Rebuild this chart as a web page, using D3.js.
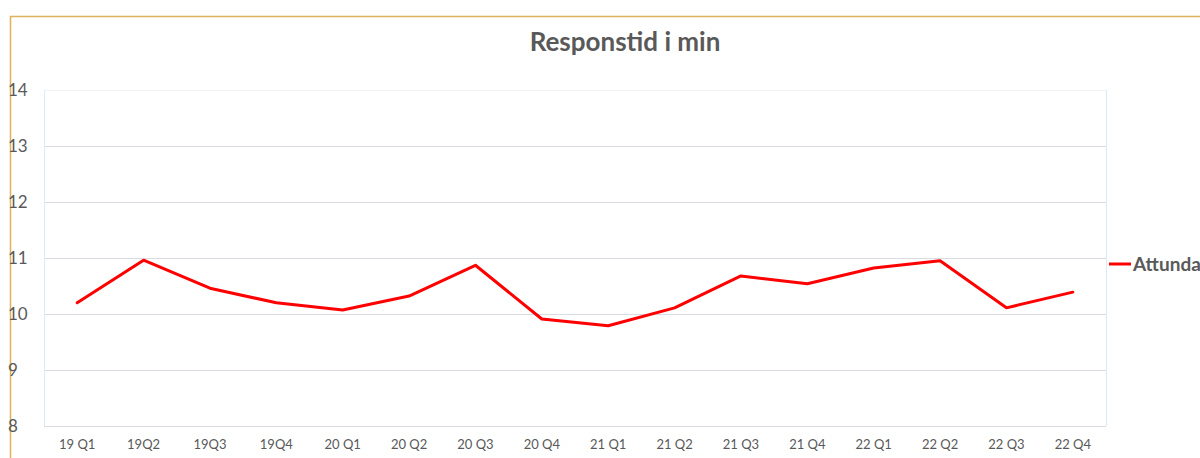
<!DOCTYPE html>
<html>
<head>
<meta charset="utf-8">
<script src="https://cdn.jsdelivr.net/npm/d3@7"></script>
<style>
  body { margin: 0; background: #fff; overflow: hidden; }
  svg { display: block; font-family: Lato, "Open Sans", sans-serif; }
</style>
</head>
<body>
<svg id="chart"></svg>
<script>
// chart data
var quarters = ['19 Q1', '19Q2', '19Q3', '19Q4', '20 Q1', '20 Q2', '20 Q3', '20 Q4',
    '21 Q1', '21 Q2', '21 Q3', '21 Q4', '22 Q1', '22 Q2', '22 Q3', '22 Q4'];
var attunda = [10.2, 10.96, 10.46, 10.2, 10.07, 10.32, 10.87, 9.91,
    9.79, 10.11, 10.68, 10.54, 10.82, 10.95, 10.11, 10.39];
var yTicks = [8, 9, 10, 11, 12, 13, 14];
var seriesName = 'Attunda';
var title = 'Responstid i min';

var width = 1200, height = 458,
    plot = { left: 44, right: 1106, top: 90, bottom: 426 };

var svg = d3.select('#chart').attr('width', width).attr('height', height);

// outer frame (only left/top visible)
svg.append('rect')
    .attr('x', 10.5).attr('y', 16.5)
    .attr('width', 1300).attr('height', 600)
    .attr('fill', 'none')
    .attr('stroke', '#dcb35c')
    .attr('stroke-width', 1.5);

var x = d3.scaleBand().domain(quarters).range([plot.left, plot.right]);
var y = d3.scaleLinear().domain([8, 14]).range([plot.bottom, plot.top]);

// gridlines
svg.append('g')
    .selectAll('line')
    .data(yTicks)
    .enter().append('line')
    .attr('x1', plot.left).attr('x2', plot.right)
    .attr('y1', function (d) { return Math.round(y(d)) + 0.5; })
    .attr('y2', function (d) { return Math.round(y(d)) + 0.5; })
    .attr('stroke', function (d) { return d === 14 ? '#f0f2f5' : '#d9dde3'; })
    .attr('stroke-width', 1);

// plot area side borders
svg.append('g').selectAll('line')
    .data([plot.left, plot.right])
    .enter().append('line')
    .attr('x1', function (d) { return d + 0.5; })
    .attr('x2', function (d) { return d + 0.5; })
    .attr('y1', plot.top).attr('y2', plot.bottom)
    .attr('stroke', '#dce9f6');

// y axis labels
svg.append('g')
    .selectAll('text')
    .data(yTicks)
    .enter().append('text')
    .attr('x', 8)
    .attr('y', function (d) { return y(d) + 6; })
    .attr('fill', '#595959')
    .attr('font-size', 17)
    .text(function (d) { return d; });

// x axis labels
svg.append('g')
    .selectAll('text')
    .data(quarters)
    .enter().append('text')
    .attr('x', function (d) { return x(d) + x.bandwidth() / 2; })
    .attr('y', 449)
    .attr('text-anchor', 'middle')
    .attr('fill', '#595959')
    .attr('font-size', 13)
    .text(function (d) { return d; });

// line
var line = d3.line()
    .x(function (d, i) { return x(quarters[i]) + x.bandwidth() / 2; })
    .y(function (d) { return y(d); });

svg.append('path')
    .datum(attunda)
    .attr('d', line)
    .attr('fill', 'none')
    .attr('stroke', '#ff0000')
    .attr('stroke-width', 3)
    .attr('stroke-linejoin', 'round')
    .attr('stroke-linecap', 'round');

// title
svg.append('text')
    .attr('x', 625).attr('y', 51)
    .attr('text-anchor', 'middle')
    .attr('fill', '#595959')
    .attr('font-size', 26)
    .attr('font-weight', 'bold')
    .text(title);

// legend
var legend = svg.append('g').attr('transform', 'translate(1109,264)');
legend.append('line')
    .attr('x1', 0).attr('x2', 22)
    .attr('stroke', '#ff0000').attr('stroke-width', 3);
legend.append('text')
    .attr('x', 24).attr('y', 7)
    .attr('fill', '#595959')
    .attr('font-size', 19)
    .attr('font-weight', 'bold')
    .text(seriesName);
</script>
</body>
</html>
